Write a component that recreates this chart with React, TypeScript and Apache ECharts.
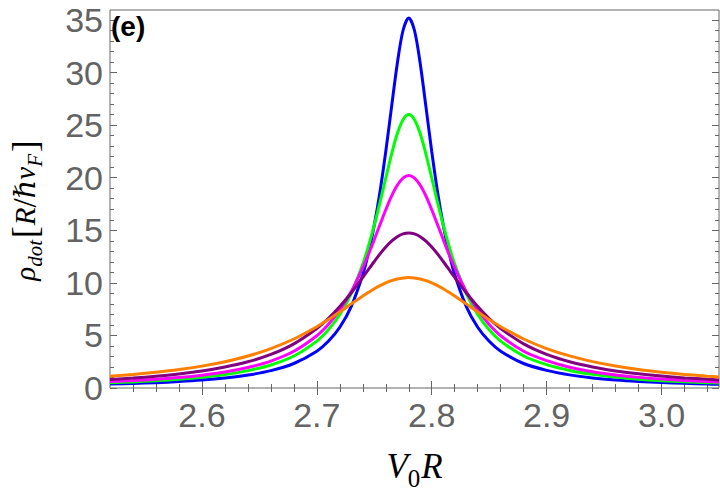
import React, { useEffect, useRef } from "react";
import * as echarts from "echarts";

const xs = [
  2.52, 2.54, 2.56, 2.58, 2.6, 2.62, 2.64, 2.66, 2.68, 2.7, 2.71, 2.72, 2.73, 2.74, 2.745, 2.75, 2.755, 2.76, 2.765, 2.77, 2.775,
  2.78,
  2.785, 2.79, 2.795, 2.8, 2.805, 2.81, 2.815, 2.82, 2.83, 2.84, 2.85, 2.86, 2.88, 2.9, 2.92, 2.94, 2.96, 2.98, 3.0, 3.02, 3.04,
  3.05,
];

const blueVals = [
  0.37, 0.43, 0.51, 0.61, 0.75, 0.95, 1.23, 1.65, 2.33, 3.5, 4.44, 5.78, 7.77, 10.79, 12.89, 15.49, 18.69, 22.49, 26.71, 30.84, 34.0,
  35.2,
  34.0, 30.84, 26.71, 22.49, 18.69, 15.49, 12.89, 10.79, 7.77, 5.78, 4.44, 3.5, 2.33, 1.68, 1.25, 0.96, 0.76, 0.62, 0.52, 0.44, 0.38,
  0.35,
];
const greenVals = [
  0.5, 0.58, 0.69, 0.83, 1.02, 1.28, 1.65, 2.19, 3.04, 4.46, 5.53, 6.99, 9.01, 11.78, 13.51, 15.48, 17.67, 19.97, 22.23, 24.18, 25.52,
  26.0,
  25.52, 24.18, 22.23, 19.97, 17.67, 15.48, 13.51, 11.78, 9.01, 6.99, 5.53, 4.46, 3.04, 2.22, 1.67, 1.3, 1.04, 0.84, 0.7, 0.59, 0.51,
  0.47,
];
const magentaVals = [
  0.61, 0.71, 0.84, 1.0, 1.22, 1.52, 1.95, 2.56, 3.49, 4.97, 6.04, 7.42, 9.19, 11.44, 12.73, 14.12, 15.55, 16.95, 18.24, 19.28, 19.96,
  20.2,
  19.96, 19.28, 18.24, 16.95, 15.55, 14.12, 12.73, 11.44, 9.19, 7.42, 6.04, 4.97, 3.49, 2.6, 1.98, 1.54, 1.24, 1.01, 0.85, 0.72, 0.62,
  0.57,
];
const purpleVals = [
  0.82, 0.95, 1.12, 1.34, 1.61, 1.99, 2.49, 3.19, 4.2, 5.66, 6.61, 7.75, 9.06, 10.52, 11.28, 12.03, 12.75, 13.4, 13.96, 14.39, 14.66,
  14.75,
  14.66, 14.39, 13.96, 13.4, 12.75, 12.03, 11.28, 10.52, 9.06, 7.75, 6.61, 5.66, 4.2, 3.2, 2.5, 2.0, 1.62, 1.35, 1.13, 0.96, 0.83,
  0.77,
];
const orangeVals = [
  1.11, 1.28, 1.49, 1.75, 2.08, 2.5, 3.04, 3.75, 4.66, 5.83, 6.51, 7.24, 8.0, 8.75, 9.1, 9.44, 9.74, 10.0, 10.21, 10.37, 10.47,
  10.5,
  10.47, 10.37, 10.21, 10.0, 9.74, 9.44, 9.1, 8.75, 8.0, 7.24, 6.51, 5.83, 4.66, 3.75, 3.05, 2.51, 2.09, 1.76, 1.5, 1.29, 1.12,
  1.05,
];

const seriesList = [
  { name: "blue", values: blueVals, color: "#0000ff" },
  { name: "green", values: greenVals, color: "#00ff00" },
  { name: "magenta", values: magentaVals, color: "#ff00ff" },
  { name: "purple", values: purpleVals, color: "#800080" },
  { name: "orange", values: orangeVals, color: "#ff8000" },
];

const xMajorTicks = [2.6, 2.7, 2.8, 2.9, 3.0];
const xMinorTicks = [
  2.54, 2.56, 2.58, 2.62, 2.64, 2.66, 2.68, 2.72, 2.74, 2.76, 2.78, 2.82, 2.84, 2.86, 2.88, 2.92, 2.94, 2.96, 2.98, 3.02, 3.04,
];
const yMajorTicks = [0, 5, 10, 15, 20, 25, 30, 35];
const yMinorTicks = [
  1, 2, 3, 4, 6, 7, 8, 9, 11, 12, 13, 14, 16, 17, 18, 19, 21, 22, 23, 24, 26, 27, 28, 29, 31, 32, 33, 34,
];

const X_MIN = 2.52;
const X_MAX = 3.05;
const Y_MIN = 0;
const Y_MAX = 35.95;

const AXIS_COLOR = "#666666";
const LABEL_COLOR = "#636363";
const SANS = "'Liberation Sans', Arial, sans-serif";
const SERIF = "'Liberation Serif', 'DejaVu Serif', 'Times New Roman', serif";

function tickAxis(kind: "x" | "y", position: string, ticks: number[], len: number, labels: boolean) {
  const isX = kind === "x";
  return {
    type: "value",
    position,
    min: isX ? X_MIN : Y_MIN,
    max: isX ? X_MAX : Y_MAX,
    axisLine: { show: false },
    splitLine: { show: false },
    axisTick: {
      show: true,
      inside: true,
      length: len,
      customValues: ticks,
      lineStyle: { color: AXIS_COLOR, width: 1 },
    },
    axisLabel: labels
      ? {
          show: true,
          customValues: ticks,
          color: LABEL_COLOR,
          fontSize: 34,
          fontFamily: SANS,
          margin: isX ? 10 : 7,
          formatter: (v: number) => (isX ? v.toFixed(1) : String(Math.round(v))),
        }
      : { show: false },
  } as any;
}

export default function App() {
  const ref = useRef<HTMLDivElement>(null);

  useEffect(() => {
    if (!ref.current) return;
    const chart = echarts.init(ref.current, null, { renderer: "svg" });

    const xMain = tickAxis("x", "bottom", xMajorTicks, 7, true);
    xMain.name = "{i|V}{s|0}{i|R}";
    xMain.nameLocation = "middle";
    xMain.nameGap = 63;
    xMain.nameTextStyle = {
      rich: {
        i: { fontFamily: SERIF, fontStyle: "italic", fontSize: 35, color: "#000", lineHeight: 40, verticalAlign: "bottom", padding: [0, 0, 7, 0] },
        s: { fontFamily: SERIF, fontSize: 25, color: "#000", lineHeight: 40, verticalAlign: "bottom", padding: [0, 1, 0, 0] },
      },
    };

    const yMain = tickAxis("y", "left", yMajorTicks, 7, true);
    yMain.name = "{i|ρ}{s|dot}{b|[}{i|R}{u|/}{i|ℏv}{s|F}{b|]}";
    yMain.nameLocation = "middle";
    yMain.nameRotate = 90;
    yMain.nameGap = 65;
    yMain.nameTextStyle = {
      padding: [0, 22, 0, 0],
      rich: {
        i: { fontFamily: SERIF, fontStyle: "italic", fontSize: 29, color: "#000", lineHeight: 38, verticalAlign: "bottom", padding: [0, 0, 6, 0] },
        s: { fontFamily: SERIF, fontStyle: "italic", fontSize: 21, color: "#000", lineHeight: 38, verticalAlign: "bottom", padding: [0, 1, 0, 0] },
        b: { fontFamily: SERIF, fontSize: 35, color: "#000", lineHeight: 44, verticalAlign: "bottom", padding: [0, 1, 2, 1] },
        u: { fontFamily: SERIF, fontSize: 33, color: "#000", lineHeight: 42, verticalAlign: "bottom", padding: [0, 0, 4, 0] },
      },
    };

    const option: any = {
      animation: false,
      backgroundColor: "#ffffff",
      grid: {
        left: 107,
        right: 1,
        top: 10,
        bottom: 109,
        show: true,
        borderColor: AXIS_COLOR,
        borderWidth: 1,
        backgroundColor: "transparent",
        containLabel: false,
      },
      xAxis: [
        xMain,
        tickAxis("x", "bottom", xMinorTicks, 4, false),
        tickAxis("x", "top", xMajorTicks, 7, false),
        tickAxis("x", "top", xMinorTicks, 4, false),
      ],
      yAxis: [
        yMain,
        tickAxis("y", "left", yMinorTicks, 4, false),
        tickAxis("y", "right", yMajorTicks, 7, false),
        tickAxis("y", "right", yMinorTicks, 4, false),
      ],
      graphic: [
        {
          type: "text",
          left: 111,
          top: 12,
          style: {
            text: "(e)",
            fontFamily: SANS,
            fontWeight: "bold",
            fontSize: 28,
            fill: "#000000",
          },
          z: 10,
        },
      ],
      series: seriesList.map((s) => ({
        name: s.name,
        type: "line",
        xAxisIndex: 0,
        yAxisIndex: 0,
        data: xs.map((x, i) => [x, s.values[i]]),
        showSymbol: false,
        smooth: 0.3,
        clip: true,
        lineStyle: { color: s.color, width: 3 },
        itemStyle: { color: s.color },
      })),
    };

    chart.setOption(option);
    return () => chart.dispose();
  }, []);

  return (
    <div
      ref={ref}
      style={{ position: "absolute", left: 0, top: 0, width: 720, height: 497 }}
    />
  );
}
